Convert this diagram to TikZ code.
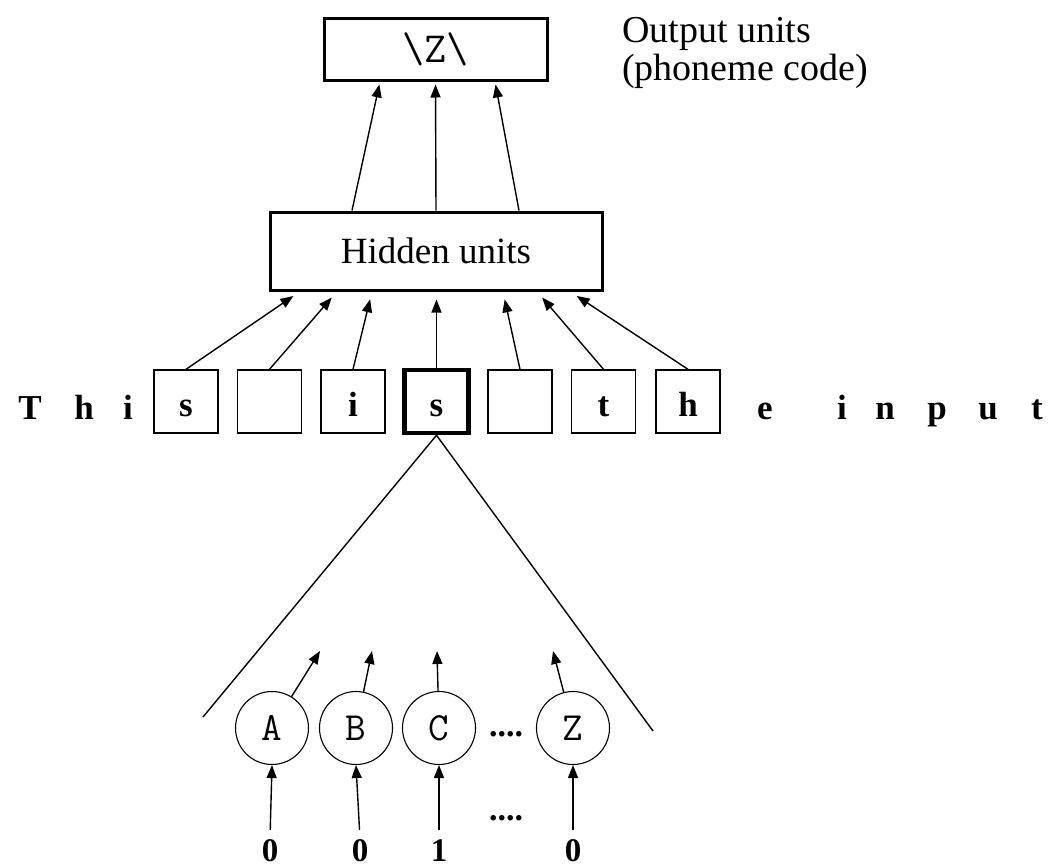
\documentclass[tikz,border=0pt]{standalone}
\usepackage{fontspec}
\setmainfont{Liberation Serif}
\usetikzlibrary{arrows.meta}
\tikzset{
  arr/.style={line width=1.4pt,-{Triangle[length=13pt,width=10pt]}},
  thinline/.style={line width=1.4pt},
  bigbox/.style={draw,line width=3pt,rectangle,inner sep=0pt},
  inbox/.style={draw,line width=1.4pt,rectangle,minimum width=64pt,minimum height=63pt,inner sep=0pt,
    text height=29pt,text depth=0pt,font=\fontsize{35}{35}\selectfont\bfseries},
  boldbox/.style={inbox,line width=4.5pt},
  streamletter/.style={font=\fontsize{35}{35}\selectfont\bfseries,anchor=base,inner sep=0pt},
  unit/.style={draw,circle,line width=1.1pt,minimum size=73pt,inner sep=0pt,
    font=\fontsize{40}{40}\selectfont\ttfamily},
  bit/.style={font=\fontsize{33}{33}\selectfont\bfseries,inner sep=0pt,anchor=base},
  ellipsis/.style={font=\fontsize{34}{34}\selectfont\bfseries,inner sep=0pt,anchor=base},
  label/.style={font=\fontsize{38}{38}\selectfont,anchor=base west,inner sep=0pt}
}
\begin{document}
\begin{tikzpicture}[x=1pt,y=-1pt]
\useasboundingbox (0,0) rectangle (1053,868);

% output layer
\node[bigbox,minimum width=223pt,minimum height=62pt,font=\fontsize{43}{43}\selectfont\ttfamily] (out) at (435.5,49) {\textbackslash Z\textbackslash};
\node[label] (outA) at (622,42) {Output units};
\node[label] (outB) at (622,80) {(phoneme code)};

% hidden layer
\node[bigbox,minimum width=332pt,minimum height=78pt,font=\fontsize{37}{37}\selectfont] (hid) at (436,251) {Hidden units};

% hidden -> output
\draw[arr,shorten >=3pt] ([xshift=-84pt]hid.north) -- ([xshift=-55.5pt]out.south);
\draw[arr,shorten >=3pt] (hid.north) -- (out.south);
\draw[arr,shorten >=3pt] ([xshift=83pt]hid.north) -- ([xshift=59.5pt]out.south);

% input window
\node[inbox]   (b1) at (186,401.5) {s};
\node[inbox]   (b2) at (269.5,401.5) {};
\node[inbox]   (b3) at (353,401.5) {i};
\node[boldbox] (b4) at (436.5,401.5) {s};
\node[inbox]   (b5) at (520,401.5) {};
\node[inbox]   (b6) at (603.5,401.5) {t};
\node[inbox]   (b7) at (688,401.5) {h};

% the rest of the text stream
\node[streamletter] (lT) at (30,419) {T};
\node[streamletter] (lh) at (84,419) {h};
\node[streamletter] (li) at (128,419) {i};
\node[streamletter] (le) at (765,419) {e};
\node[streamletter] (li2) at (842,419) {i};
\node[streamletter] (ln) at (885,419) {n};
\node[streamletter] (lp) at (937,419) {p};
\node[streamletter] (lu) at (988,419) {u};
\node[streamletter] (lt) at (1037,419) {t};

% input window -> hidden
\draw[arr,shorten >=8pt] (b1.north) -- ([xshift=-136pt]hid.south);
\draw[arr,shorten >=8pt] (b2.north) -- ([xshift=-99pt]hid.south);
\draw[arr,shorten >=8pt] (b3.north) -- ([xshift=-64pt]hid.south);
\draw[arr,shorten >=8pt] (b4.north) -- ([xshift=0.5pt]hid.south);
\draw[arr,shorten >=8pt] (b5.north) -- ([xshift=67pt]hid.south);
\draw[arr,shorten >=8pt] (b6.north) -- ([xshift=101pt]hid.south);
\draw[arr,shorten >=8pt] (b7.north) -- ([xshift=134pt]hid.south);

% expansion of one letter into its local code
\coordinate (fanL) at (203,717);
\coordinate (fanR) at (653,731);
\draw[thinline] (b4.south) -- (fanL);
\draw[thinline] (b4.south) -- (fanR);

\node[unit] (cA) at (272,728) {A};
\node[unit] (cB) at (356,728) {B};
\node[unit] (cC) at (439,728) {C};
\node[unit] (cZ) at (573,728) {Z};
\node[ellipsis] (dots1) at (506,736) {....};

\coordinate (tA) at (320,651);
\coordinate (tB) at (372,651);
\coordinate (tC) at (437,651);
\coordinate (tZ) at (553,651);
\draw[arr] (cA) -- (tA);
\draw[arr] (cB) -- (tB);
\draw[arr] (cC) -- (tC);
\draw[arr] (cZ) -- (tZ);

% input bits
\node[bit] (n1) at (270,861) {0};
\node[bit] (n2) at (360,861) {0};
\node[bit] (n3) at (439,861) {1};
\node[bit] (n4) at (573,861) {0};
\node[ellipsis] (dots2) at (506,820) {....};

\draw[arr,shorten <=9pt] (n1.north) -- (cA.south);
\draw[arr,shorten <=9pt] (n2.north) -- (cB.south);
\draw[arr,shorten <=9pt] (n3.north) -- (cC.south);
\draw[arr,shorten <=9pt] (n4.north) -- (cZ.south);
\end{tikzpicture}
\end{document}
